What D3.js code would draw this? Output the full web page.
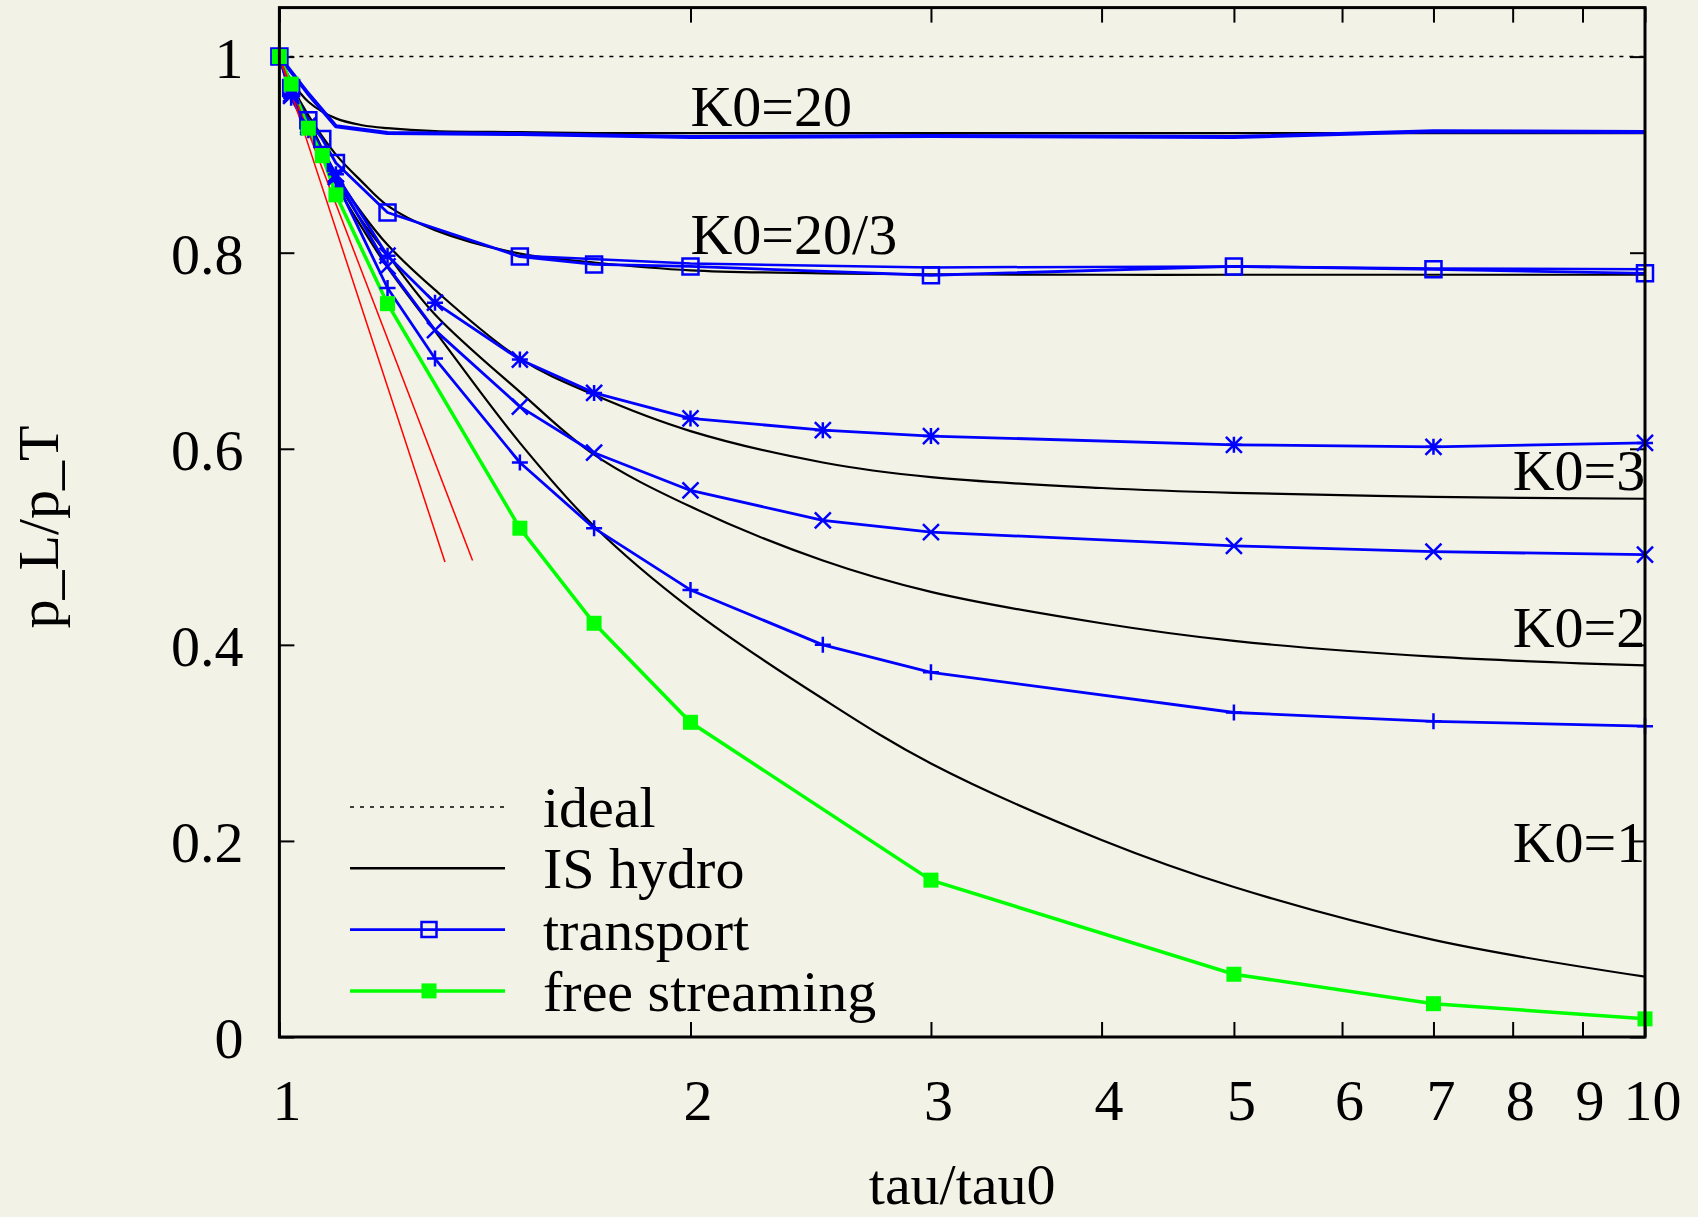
<!DOCTYPE html>
<html>
<head>
<meta charset="utf-8">
<script src="https://cdn.jsdelivr.net/npm/d3@7"></script>
<style>
  html, body { margin: 0; padding: 0; background: #f2f2e6; }
  svg { display: block; font-family: "Liberation Serif", "Times New Roman", serif; }
</style>
</head>
<body>
<svg id="chart"></svg>
<script>
// 1: DATA
const xTicks = [1, 2, 3, 4, 5, 6, 7, 8, 9, 10];
const yTicks = [0, 0.2, 0.4, 0.6, 0.8, 1];

// IS hydro curves, sampled on a common grid
const hydroTau = [1, 1.02, 1.05, 1.1, 1.15, 1.2, 1.3, 1.5, 1.7, 2, 2.5, 3, 4, 5, 7, 10];
const hydroK20 = [1, 0.976, 0.954, 0.937, 0.930, 0.927, 0.924, 0.923, 0.922, 0.922, 0.922, 0.922, 0.922, 0.922, 0.922, 0.922];
const hydroK20_3 = [1, 0.972, 0.940, 0.900, 0.872, 0.848, 0.823, 0.799, 0.790, 0.782, 0.779, 0.778, 0.7775, 0.7775, 0.7775, 0.7775];
const hydroK3 = [1, 0.972, 0.935, 0.880, 0.840, 0.808, 0.762, 0.692, 0.655, 0.618, 0.586, 0.571, 0.560, 0.555, 0.551, 0.549];
const hydroK2 = [1, 0.971, 0.932, 0.875, 0.832, 0.798, 0.737, 0.658, 0.594, 0.541, 0.486, 0.454, 0.422, 0.404, 0.388, 0.379];
const hydroK1 = [1, 0.970, 0.930, 0.870, 0.825, 0.785, 0.720, 0.606, 0.521, 0.437, 0.345, 0.279, 0.201, 0.153, 0.099, 0.0615];

// transport runs
const trK20Tau = [1, 1.05, 1.1, 1.2, 1.5, 2, 3, 5, 7, 10];
const trK20 = [1, 0.962, 0.929, 0.922, 0.921, 0.918, 0.919, 0.918, 0.924, 0.923];

const trK20_3Tau = [1, 1.02, 1.05, 1.075, 1.1, 1.2, 1.5, 1.7, 2, 3, 5, 7, 10];
const trK20_3 = [1, 0.968, 0.935, 0.916, 0.8915, 0.841, 0.796, 0.788, 0.786, 0.777, 0.786, 0.783, 0.779];
const trK20_3bTau = [1.5, 2, 3, 5, 7, 10];
const trK20_3b = [0.797, 0.789, 0.785, 0.786, 0.784, 0.783];

const trTau = [1, 1.02, 1.05, 1.1, 1.2, 1.3, 1.5, 1.7, 2, 2.5, 3, 5, 7, 10];
const trK3 = [1, 0.962, 0.930, 0.880, 0.797, 0.749, 0.691, 0.657, 0.631, 0.619, 0.613, 0.604, 0.602, 0.606];
const trK2 = [1, 0.960, 0.928, 0.877, 0.786, 0.721, 0.643, 0.596, 0.5575, 0.527, 0.515, 0.501, 0.495, 0.492];
const trK1 = [1, 0.958, 0.925, 0.873, 0.764, 0.692, 0.586, 0.519, 0.456, 0.400, 0.372, 0.331, 0.322, 0.317];

// free streaming
const fsTau = [1, 1.02, 1.05, 1.075, 1.1, 1.2, 1.5, 1.7, 2, 3, 5, 7, 10];
const fsVal = [1, 0.972, 0.927, 0.899, 0.859, 0.748, 0.519, 0.422, 0.321, 0.160, 0.064, 0.034, 0.0185];

// two thin red straight lines from the origin point
const redLines = [
    [[1, 1], [1.322, 0.4845]],
    [[1, 1], [1.385, 0.486]]
];

// curve labels
const labelText = ["K0=20", "K0=20/3", "K0=3", "K0=2", "K0=1"];
const labelTau = [2, 2, 8, 8, 8];
const labelVal = [0.929, 0.799, 0.558, 0.398, 0.179];

const legendText = ["ideal", "IS hydro", "transport", "free streaming"];

// 2: SETUP
const W = 1698, H = 1217;
const plot = { left: 279.4, right: 1645, top: 7.6, bottom: 1037 };
const fontSize = 58;

const svg = d3.select("#chart").attr("width", W).attr("height", H);
svg.append("rect").attr("width", W).attr("height", H).attr("fill", "#f2f2e6");

const x = d3.scaleLog().domain([1, 10]).range([plot.left, plot.right]);
const y = d3.scaleLinear().domain([0, 1.05]).range([plot.bottom, plot.top]);

svg.append("defs").append("clipPath").attr("id", "plotClip")
    .append("rect")
    .attr("x", plot.left).attr("y", plot.top)
    .attr("width", plot.right - plot.left).attr("height", plot.bottom - plot.top);

const zip = (ts, vs) => ts.map((t, i) => ({ t: t, v: vs[i] }));

// 3: AXES (inward ticks on all four sides)
const axStyle = g => {
    g.select(".domain").remove();
    g.selectAll(".tick line").attr("stroke", "#000").attr("stroke-width", 2);
    g.selectAll(".tick text").attr("fill", "#000").attr("font-size", fontSize)
        .attr("font-family", "Liberation Serif, serif");
};

svg.append("g")
    .attr("transform", `translate(${plot.left},0)`)
    .call(d3.axisLeft(y).tickValues(yTicks).tickSize(-15).tickPadding(36).tickFormat(d3.format("")))
    .call(axStyle)
    .call(g => g.selectAll(".tick text").attr("dy", "0.36em"));

svg.append("g")
    .attr("transform", `translate(${plot.right},0)`)
    .call(d3.axisRight(y).tickValues(yTicks).tickSize(-15).tickFormat(""))
    .call(axStyle);

svg.append("g")
    .attr("transform", `translate(0,${plot.bottom})`)
    .call(d3.axisBottom(x).tickValues(xTicks).tickSize(-15).tickPadding(42).tickFormat(d3.format("d")))
    .call(axStyle)
    .call(g => g.selectAll(".tick text").attr("x", 7));

svg.append("g")
    .attr("transform", `translate(0,${plot.top})`)
    .call(d3.axisTop(x).tickValues(xTicks).tickSize(-15).tickFormat(""))
    .call(axStyle);

// axis titles
svg.append("text")
    .attr("transform", `translate(58,527) rotate(-90)`)
    .attr("text-anchor", "middle")
    .attr("font-size", fontSize)
    .text("p_L/p_T");

svg.append("text")
    .attr("x", (plot.left + plot.right) / 2)
    .attr("y", 1204)
    .attr("text-anchor", "middle")
    .attr("font-size", fontSize)
    .text("tau/tau0");

// 4: LINES
const layer = svg.append("g").attr("clip-path", "url(#plotClip)");

const straight = d3.line().x(d => x(d.t)).y(d => y(d.v));
const smooth = d3.line().x(d => x(d.t)).y(d => y(d.v)).curve(d3.curveCatmullRom.alpha(0.5));

// ideal
layer.append("path")
    .datum(zip([1, 10], [1, 1]))
    .attr("fill", "none").attr("stroke", "#000").attr("stroke-width", 1.5)
    .attr("stroke-dasharray", "4,6")
    .attr("d", straight);

// IS hydro
[hydroK20, hydroK20_3, hydroK3, hydroK2, hydroK1].forEach(vals => {
    layer.append("path")
        .datum(zip(hydroTau, vals))
        .attr("fill", "none").attr("stroke", "#000").attr("stroke-width", 2.2)
        .attr("d", smooth);
});

// transport
const blue = "#0000ff";
const trSeries = [
    { tau: trK20Tau, vals: trK20, width: 4, marker: null },
    { tau: trK20_3bTau, vals: trK20_3b, width: 2.5, marker: null },
    { tau: trK20_3Tau, vals: trK20_3, width: 2.8, marker: "square" },
    { tau: trTau, vals: trK3, width: 2.8, marker: "star" },
    { tau: trTau, vals: trK2, width: 2.8, marker: "cross" },
    { tau: trTau, vals: trK1, width: 2.8, marker: "plus" }
];

function markerPath(type, s) {
    if (type === "square") return `M${-s},${-s}H${s}V${s}H${-s}Z`;
    if (type === "plus") return `M${-s},0H${s}M0,${-s}V${s}`;
    if (type === "cross") return `M${-s},${-s}L${s},${s}M${-s},${s}L${s},${-s}`;
    if (type === "star") return `M${-s},0H${s}M0,${-s}V${s}M${-s},${-s}L${s},${s}M${-s},${s}L${s},${-s}`;
    return "";
}

trSeries.forEach(sr => {
    const pts = zip(sr.tau, sr.vals);
    layer.append("path")
        .datum(pts)
        .attr("fill", "none").attr("stroke", blue).attr("stroke-width", sr.width)
        .attr("stroke-linejoin", "round")
        .attr("d", straight);
    if (sr.marker) {
        svg.append("g").selectAll("path")
            .data(pts)
            .join("path")
            .attr("transform", d => `translate(${x(d.t)},${y(d.v)})`)
            .attr("d", markerPath(sr.marker, 8))
            .attr("fill", "none").attr("stroke", blue).attr("stroke-width", 2.5);
    }
});

// free streaming
const green = "#00ff00";
const fsPts = zip(fsTau, fsVal);
layer.append("path")
    .datum(fsPts)
    .attr("fill", "none").attr("stroke", green).attr("stroke-width", 3.5)
    .attr("d", straight);
svg.append("g").selectAll("rect")
    .data(fsPts)
    .join("rect")
    .attr("x", d => x(d.t) - 7.5).attr("y", d => y(d.v) - 7.5)
    .attr("width", 15).attr("height", 15)
    .attr("fill", green);

// red lines
redLines.forEach(seg => {
    layer.append("path")
        .datum(seg.map(p => ({ t: p[0], v: p[1] })))
        .attr("fill", "none").attr("stroke", "#ff0000").attr("stroke-width", 1.5)
        .attr("d", straight);
});

// curve labels (clipped by the frame)
svg.append("g").attr("clip-path", "url(#plotClip)")
    .selectAll("text")
    .data(labelText)
    .join("text")
    .attr("x", (d, i) => x(labelTau[i]))
    .attr("y", (d, i) => y(labelVal[i]))
    .attr("font-size", fontSize)
    .text(d => d);

// 5: LEGEND
const lg = svg.append("g");
const lgX0 = 350, lgX1 = 505, lgTextX = 543, lgY0 = 807, lgStep = 61.3;
legendText.forEach((name, i) => {
    const yy = lgY0 + i * lgStep;
    const line = lg.append("line")
        .attr("x1", lgX0).attr("x2", lgX1).attr("y1", yy).attr("y2", yy);
    if (i === 0) line.attr("stroke", "#000").attr("stroke-width", 1.5).attr("stroke-dasharray", "4,6");
    if (i === 1) line.attr("stroke", "#000").attr("stroke-width", 2.6);
    if (i === 2) {
        line.attr("stroke", blue).attr("stroke-width", 2.6);
        lg.append("path").attr("transform", `translate(429,${yy})`)
            .attr("d", markerPath("square", 7.5))
            .attr("fill", "none").attr("stroke", blue).attr("stroke-width", 2.5);
    }
    if (i === 3) {
        line.attr("stroke", green).attr("stroke-width", 3.5);
        lg.append("rect").attr("x", 429 - 7.5).attr("y", yy - 7.5)
            .attr("width", 15).attr("height", 15).attr("fill", green);
    }
    lg.append("text")
        .attr("x", lgTextX).attr("y", yy + 20)
        .attr("font-size", fontSize)
        .text(name);
});

// frame
svg.append("rect")
    .attr("x", plot.left).attr("y", plot.top)
    .attr("width", plot.right - plot.left).attr("height", plot.bottom - plot.top)
    .attr("fill", "none").attr("stroke", "#000").attr("stroke-width", 3);
</script>
</body>
</html>
